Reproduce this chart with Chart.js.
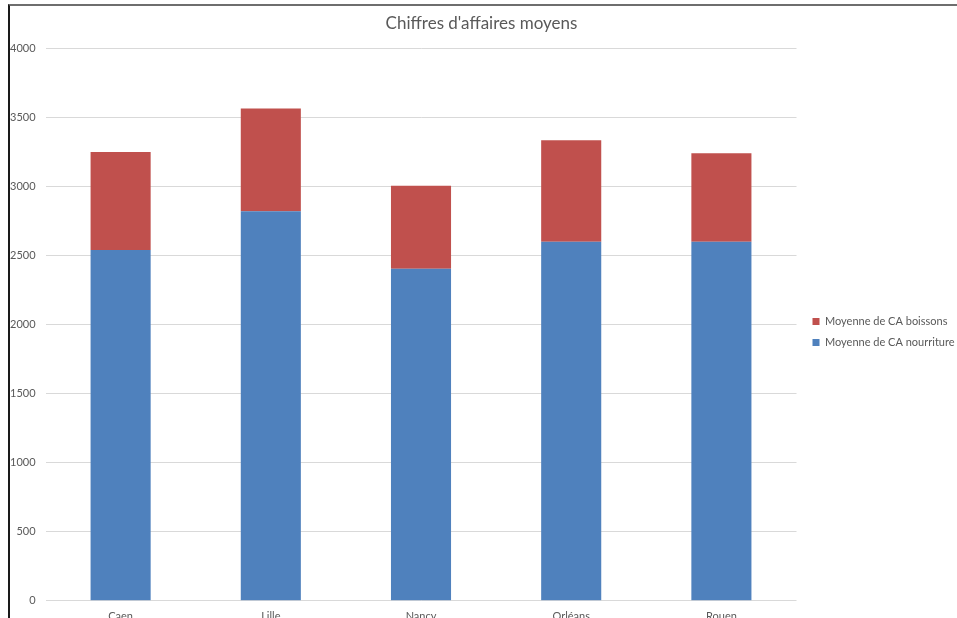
<!DOCTYPE html>
<html>
<head>
<meta charset="utf-8">
<script src="https://cdn.jsdelivr.net/npm/chart.js@4/dist/chart.umd.min.js"></script>
<style>
  html, body { margin: 0; padding: 0; background: #fff; overflow: hidden; }
  #wrap { position: absolute; left: 0; top: 0; width: 957px; height: 618px; overflow: hidden; }
  #chart { position: absolute; left: 0; top: 0; }
  #frame { position: absolute; left: 8px; top: 4px; width: 960px; height: 640px;
           border-left: 2px solid #1a1a1a; border-top: 2px solid #6e6e6e; pointer-events: none; }
</style>
</head>
<body>
<div id="wrap">
  <canvas id="chart" width="957" height="640"></canvas>
  <div id="frame"></div>
</div>
<script>
const villes = ['Caen', 'Lille', 'Nancy', 'Orléans', 'Rouen'];
const caNourriture = [2540, 2820, 2405, 2600, 2600];
const caBoissons = [710, 745, 600, 735, 640];
const yTicks = [0, 500, 1000, 1500, 2000, 2500, 3000, 3500, 4000];

const gris = '#595959';
const police = 'Lato, "Liberation Sans", sans-serif';

let ctx = document.getElementById('chart').getContext('2d');
let chart = new Chart(ctx, {
    type: 'bar',
    data: {
        labels: villes,
        datasets: [
            { label: 'Moyenne de CA nourriture', data: caNourriture, backgroundColor: '#4F81BD', borderWidth: 0 },
            { label: 'Moyenne de CA boissons', data: caBoissons, backgroundColor: '#C0504D', borderWidth: 0 }
        ]
    },
    options: {
        responsive: false,
        animation: false,
        devicePixelRatio: 1,
        layout: { padding: { left: 0, right: -6, top: 0, bottom: 8 } },
        datasets: { bar: { categoryPercentage: 0.8, barPercentage: 0.5 } },
        plugins: {
            title: {
                display: true,
                text: "Chiffres d'affaires moyens",
                color: gris,
                font: { family: police, size: 17, weight: 'normal' },
                padding: { top: 13, bottom: 15 }
            },
            legend: {
                position: 'right',
                reverse: true,
                title: { display: true, text: ' ', font: { size: 11 }, padding: { top: 9, bottom: 10 } },
                labels: {
                    color: gris,
                    boxWidth: 7,
                    boxHeight: 7,
                    padding: 10,
                    font: { family: police, size: 11 }
                }
            },
            tooltip: { enabled: false }
        },
        scales: {
            x: {
                stacked: true,
                grid: { display: false, drawTicks: false },
                border: { display: false },
                ticks: { color: gris, padding: 9, font: { family: police, size: 11 } }
            },
            y: {
                stacked: true,
                min: yTicks[0],
                max: yTicks[yTicks.length - 1],
                afterBuildTicks: (s) => { s.ticks = yTicks.map(v => ({ value: v })); },
                grid: { color: '#d9d9d9', drawTicks: false },
                border: { display: false },
                ticks: { color: gris, padding: 10, font: { family: police, size: 11 }, callback: (v) => String(v) }
            },
            gap: {
                position: 'right',
                display: true,
                grid: { display: false },
                border: { display: false },
                ticks: { display: false },
                afterFit: (s) => { s.width = 6; }
            }
        }
    }
});
</script>
</body>
</html>
